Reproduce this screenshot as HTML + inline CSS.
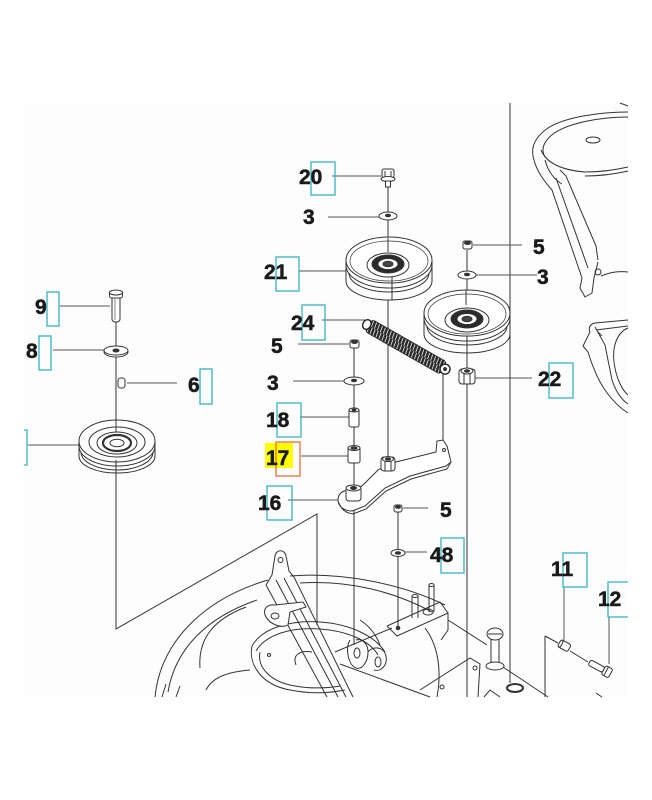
<!DOCTYPE html>
<html><head><meta charset="utf-8"><style>
html,body{margin:0;padding:0;background:#fff;}
svg{display:block}
text{font-family:"Liberation Sans",Arial,sans-serif;font-weight:bold;font-size:21px;fill:#1a1a1a;stroke:#1a1a1a;stroke-width:0.5}
</style></head><body>
<svg width="652" height="800" viewBox="0 0 652 800" xmlns="http://www.w3.org/2000/svg">
<defs>
<pattern id="coil" width="3.4" height="14" patternUnits="userSpaceOnUse">
<rect width="3.4" height="14" fill="#2a2a2a"/>
<line x1="0.5" y1="0" x2="2.8" y2="14" stroke="#f4f4f4" stroke-width="0.8"/>
</pattern>
</defs>
<rect x="0" y="0" width="652" height="800" fill="#fff"/>
<rect x="25" y="103" width="603" height="594" fill="#fdfdfd"/>

<!-- axis / frame lines -->
<g fill="none" stroke="#333" stroke-width="1">
<path d="M510,103 V683"/>
<path d="M388,186 V458"/>
<path d="M467,250 V697"/>
<path d="M354,348 V645"/>
<path d="M116,322 V629 L317,514 V625"/>
<path d="M398,512 V627"/>
<path d="M443,372 V440"/>
</g>

<!-- leader lines -->
<g fill="none" stroke="#555" stroke-width="1">
<path d="M332,176 H381"/>
<path d="M328,217 H379"/>
<path d="M299,271 H346"/>
<path d="M473,245 H522"/>
<path d="M475,275 H537"/>
<path d="M322,320 H366"/>
<path d="M298,344 H349"/>
<path d="M293,381 H345"/>
<path d="M300,417 H349"/>
<path d="M301,456 H348"/>
<path d="M288,500 H338"/>
<path d="M403,508 H428"/>
<path d="M404,552 H427"/>
<path d="M475,378 H532"/>
<path d="M60,306 H110"/>
<path d="M53,350 H104"/>
<path d="M127,383 H177"/>
<path d="M28,445 H79"/>
<path d="M564,587 V641"/>
<path d="M609,617 V664"/>
</g>

<!-- top right cover -->
<g fill="none" stroke="#333" stroke-width="1">
<path d="M628,112 C600,112 565,117 548,128 C535,137 530,148 534,160 C537,172 545,182 552,190 L582,278"/>
<path d="M628,117 C600,117 568,123 553,134 C543,142 541,150 545,157"/>
<path d="M541,150 C546,162 560,170 585,172 C600,172 615,170 628,167"/>
<path d="M585,176 C600,176 615,174 628,171"/>
<path d="M560,170 L566,176 L596,246 L598,260"/>
<path d="M556,178 L588,268"/>
<path d="M545,160 C548,172 555,180 562,184"/>
<ellipse cx="593" cy="140" rx="7" ry="3"/>
<path d="M582,278 L580,288 L585,297 L592,293 L594,278 L598,262"/>
<circle cx="598" cy="272" r="3"/>
<path d="M601,276 C610,272 620,271 628,272"/>
<path d="M620,103 L628,106"/>
</g>

<!-- right middle cover -->
<g fill="none" stroke="#333" stroke-width="1">
<path d="M628,320 L595,323 C590,324 588,328 590,332 L583,346 L588,352 C592,365 598,380 605,390 C612,400 620,408 628,413"/>
<path d="M595,327 L605,345 L612,380 C616,392 622,400 628,404"/>
<path d="M628,328 C618,332 612,345 614,362 C616,378 622,390 628,395"/>
<path d="M596,330 L628,326"/>
<path d="M598,332 L602,336"/>
</g>

<!-- Pulley 21 -->
<g stroke="#333" stroke-width="1">
<path d="M346,260 V281 A43,19 0 0 0 432,281 V260 Z" fill="#fff"/>
<ellipse cx="389" cy="260" rx="43" ry="23" fill="#fff"/>
<g fill="none">
<path d="M346,265 A43,23 0 0 0 432,265"/>
<path d="M349,273 A40,19 0 0 0 429,273"/>
<ellipse cx="389" cy="261" rx="39" ry="20" stroke-width="0.7"/>
<path d="M388,238 V252"/>
<path d="M392,277 V300"/>
</g>
<ellipse cx="388" cy="265" rx="21" ry="12" fill="#fff"/>
<ellipse cx="388" cy="264" rx="16" ry="9" fill="#2b2b2b"/>
<ellipse cx="388" cy="264" rx="10" ry="5.5" fill="#fff"/>
<ellipse cx="388" cy="264" rx="5" ry="2.8" fill="#444"/>
</g>

<!-- Pulley 2 (right) -->
<g stroke="#333" stroke-width="1">
<path d="M424,313 V334 A43,19 0 0 0 510,334 V313 Z" fill="#fff"/>
<ellipse cx="467" cy="313" rx="43" ry="23" fill="#fff"/>
<g fill="none">
<path d="M424,318 A43,23 0 0 0 510,318"/>
<path d="M427,326 A40,19 0 0 0 507,326"/>
<ellipse cx="467" cy="314" rx="39" ry="20" stroke-width="0.7"/>
<path d="M466,290 V305"/>
<path d="M467,336 V353"/>
</g>
<ellipse cx="467" cy="320" rx="22" ry="12" fill="#fff"/>
<ellipse cx="467" cy="319" rx="16" ry="9" fill="#2b2b2b"/>
<ellipse cx="467" cy="319" rx="10" ry="5.5" fill="#fff"/>
<ellipse cx="467" cy="319" rx="5" ry="2.8" fill="#444"/>
</g>

<!-- Left pulley -->
<g stroke="#333" stroke-width="1">
<path d="M79,441 V456 A38,17 0 0 0 155,456 V441 Z" fill="#fff"/>
<ellipse cx="117" cy="441" rx="38" ry="21" fill="#fff"/>
<g fill="none">
<path d="M79,446 A38,20 0 0 0 155,446"/>
<path d="M81,452 A36,18 0 0 0 153,452"/>
<ellipse cx="117" cy="442" rx="28" ry="15"/>
<ellipse cx="117" cy="443" rx="20" ry="11"/>
<path d="M116,420 V432"/>
<path d="M116,460 V473"/>
</g>
<ellipse cx="117" cy="443" rx="14" ry="8" fill="#fff" stroke-width="2.2"/>
<ellipse cx="117" cy="443" rx="7" ry="3.8" fill="#fff"/>
</g>

<!-- Bolt 20, washers, nuts -->
<g stroke="#333" stroke-width="1" fill="#fff">
<rect x="382" y="169" width="12" height="9" rx="2"/>
<path d="M385,171 V177 M391,171 V177" fill="none"/>
<ellipse cx="388" cy="179" rx="7" ry="2.5"/>
<rect x="385.5" y="181" width="5" height="6"/>
<ellipse cx="388" cy="216" rx="9" ry="4"/>
<ellipse cx="388" cy="215.5" rx="2.5" ry="1.2" fill="#333"/>
<rect x="463" y="241" width="9" height="8" rx="2"/>
<ellipse cx="467.5" cy="243" rx="3" ry="1.5" fill="#333"/>
<ellipse cx="467" cy="275" rx="9" ry="4"/>
<ellipse cx="467" cy="274.5" rx="2.5" ry="1.2" fill="#333"/>
<rect x="350" y="340" width="9" height="8" rx="2"/>
<ellipse cx="354.5" cy="342" rx="3" ry="1.5" fill="#333"/>
<ellipse cx="354" cy="381" rx="10" ry="4"/>
<ellipse cx="354" cy="380.5" rx="2.5" ry="1.2" fill="#333"/>
<rect x="349" y="409" width="10" height="18" rx="2"/>
<ellipse cx="354" cy="410" rx="5" ry="2"/>
<ellipse cx="354" cy="410" rx="2" ry="1" fill="#333"/>
<rect x="348" y="447" width="12" height="16" rx="2"/>
<ellipse cx="354" cy="448" rx="6" ry="2.5"/>
<ellipse cx="354" cy="448" rx="3" ry="1.3" fill="#333"/>
<rect x="459" y="369" width="16" height="15" rx="3"/>
<path d="M464,373 V384 M470,373 V384" fill="none"/>
<ellipse cx="467" cy="371" rx="6" ry="3"/>
<ellipse cx="467" cy="371" rx="2.5" ry="1.3" fill="#333"/>
<rect x="394" y="505" width="8" height="7" rx="2"/>
<ellipse cx="398" cy="507" rx="2.5" ry="1.3" fill="#333"/>
<ellipse cx="398" cy="553" rx="7" ry="3.5"/>
<ellipse cx="398" cy="553" rx="2.5" ry="1.3" fill="#333"/>
<rect x="112" y="296" width="8" height="26" rx="3"/>
<path d="M115,299 V320" fill="none" stroke-width="0.6"/>
<rect x="109.5" y="292" width="13" height="6" rx="2"/>
<ellipse cx="116" cy="292.5" rx="6.5" ry="2.5"/>
<ellipse cx="116" cy="352" rx="12" ry="5"/>
<ellipse cx="116" cy="350.5" rx="12" ry="4.5"/>
<ellipse cx="116" cy="350.5" rx="3" ry="1.5" fill="#333"/>
<rect x="118" y="378" width="7" height="10" rx="2.5"/>
</g>

<!-- Spring 24 -->
<g transform="translate(366,324) rotate(29.7)">
<rect x="3" y="-7" width="86" height="14" rx="3" fill="url(#coil)" stroke="#222" stroke-width="0.8"/>
<ellipse cx="1" cy="0" rx="4" ry="5" fill="#fff" stroke="#222" stroke-width="1.4"/>
<ellipse cx="91" cy="0" rx="5" ry="5" fill="#fff" stroke="#222" stroke-width="1.4"/>
<ellipse cx="91" cy="0" rx="2" ry="2" fill="#333"/>
</g>

<!-- Bracket 16 -->
<g stroke="#333" stroke-width="1">
<path d="M338,500 C338,494 342,491 348,490 L362,486 L378,470 L392,463 L436,452 L437,441 L443,440 L447,446 L451,462 L446,466 L410,476 L385,488 L365,506 L352,511 C344,511 338,506 338,500 Z" fill="#fff"/>
<path d="M339,503 C341,509 346,513 353,514 L366,509 L386,491 L411,479 L447,469 L451,462" fill="none"/>
<circle cx="444" cy="450" r="1.5" fill="none"/>
<rect x="346" y="487" width="15" height="14" rx="3" fill="#fff"/>
<ellipse cx="353.5" cy="488" rx="7.5" ry="3" fill="#fff"/>
<ellipse cx="353.5" cy="488" rx="3" ry="1.5" fill="#333"/>
<rect x="381" y="457" width="14" height="14" rx="3" fill="#fff"/>
<path d="M385,460 V471 M391,460 V471" fill="none"/>
<ellipse cx="388" cy="459" rx="5.5" ry="2.5" fill="#fff"/>
<ellipse cx="388" cy="459" rx="2.5" ry="1.2" fill="#333"/>
</g>

<!-- Deck drawing -->
<g fill="none" stroke="#333" stroke-width="1">
<path d="M155,697 C160,645 200,600 268,580"/>
<path d="M168,692 C175,650 205,618 257,600"/>
<path d="M200,668 C198,640 212,620 246,607"/>
<path d="M206,690 C212,678 226,672 250,670"/>
<path d="M162,697 L166,684 M176,697 L180,686"/>
<path d="M290,576 C340,572 400,583 445,605"/>
<path d="M300,583 C350,580 395,592 432,612"/>
<path d="M252,646 C262,628 290,620 320,622 C350,624 375,636 385,652"/>
<path d="M256,651 C266,634 292,627 320,629 C348,631 370,641 378,655"/>
<path d="M252,646 C248,665 262,685 290,690 C310,694 330,693 345,690"/>
<path d="M260,652 C257,667 270,682 295,686 C312,689 328,688 340,686"/>
<path d="M296,665 C292,655 300,650 312,652"/>
<circle cx="269" cy="655" r="1.5"/>
<path d="M266,585 L272,575 L275,556 C276,549 285,549 286,556 L289,571 L294,577 L353,697"/>
<path d="M266,585 L327,697"/>
<path d="M276,580 L338,697"/>
<path d="M284,578 L346,697"/>
<circle cx="280.5" cy="560" r="2.5"/>
<path d="M265,615 C263,608 268,604 275,605 L303,602 L306,607 L290,612 L288,625 C283,628 270,626 265,615 Z" fill="#fdfdfd"/>
<ellipse cx="275" cy="616" rx="4" ry="3"/>
<path d="M335,652 L392,628"/>
<path d="M340,664 L430,697"/>
<path d="M350,640 C345,648 348,665 356,668 C362,670 368,662 368,652 C368,644 362,638 356,640"/>
<ellipse cx="357" cy="653" rx="3" ry="5"/>
<path d="M368,652 C372,646 384,646 386,656 C388,666 380,672 374,670"/>
<ellipse cx="378" cy="662" rx="3" ry="5"/>
<path d="M360,620 C368,625 375,632 380,645"/>
<path d="M387,626 L397,636 L448,613 L448,630 L441,640 M448,613 L440,602 L387,626" />
<circle cx="398" cy="628" r="1.8" fill="#333"/>
<path d="M412,596 V618 M418,596 V618"/>
<ellipse cx="415" cy="596" rx="3" ry="1.5"/>
<path d="M429,585 V612 M434,585 V612"/>
<ellipse cx="431.5" cy="585" rx="2.5" ry="1.5"/>
<ellipse cx="428" cy="612" rx="5" ry="3"/>
<path d="M425,628 C438,645 442,670 437,697"/>
<path d="M448,620 L487,645"/>
<path d="M503,667 L548,697"/>
<path d="M420,690 L470,658 L480,664 L478,697"/>
<circle cx="475" cy="668" r="2"/>
<circle cx="442" cy="687" r="2"/>
<ellipse cx="515" cy="688" rx="8" ry="4" stroke-width="2"/>
<path d="M545,636 V697 M545,636 L558,643"/>
<path d="M570,651 L588,662"/>
<path d="M596,693 L602,697"/>
<path d="M484,697 L490,690 L500,697"/>
</g>

<!-- knob, part 11, bolt 12 -->
<g stroke="#333" stroke-width="1" fill="#fff">
<rect x="491" y="638" width="8" height="26"/>
<ellipse cx="495" cy="666" rx="9" ry="4"/>
<ellipse cx="495" cy="634" rx="8" ry="6"/>
<path d="M488,634 H502" fill="none"/>
<g transform="translate(565,646) rotate(28)">
<rect x="-5" y="-4" width="10" height="8" rx="2"/>
<ellipse cx="-5" cy="0" rx="1.5" ry="4"/>
</g>
<g transform="translate(600,668) rotate(28)">
<rect x="-12" y="-3" width="16" height="6" rx="2"/>
<rect x="4" y="-5" width="8" height="10" rx="2"/>
<path d="M7,-5 V5" fill="none"/>
</g>
</g>

<!-- label boxes -->
<g fill="none" stroke="#37b3c3" stroke-width="1.3">
<rect x="311" y="162" width="24" height="33"/>
<rect x="276" y="257" width="23" height="34"/>
<rect x="302" y="305" width="23" height="35"/>
<rect x="277" y="403" width="24" height="34"/>
<rect x="267" y="486" width="25" height="34"/>
<rect x="441" y="538" width="23" height="35"/>
<rect x="549" y="363" width="24" height="35"/>
<rect x="563" y="553" width="24" height="34"/>
<path d="M628,582 H608 V617 H628"/>
<rect x="47" y="292" width="12" height="34"/>
<rect x="39" y="336" width="12" height="34"/>
<rect x="200" y="369" width="12" height="35"/>
<path d="M24,430 H27 V465 H24"/>
</g>
<rect x="265" y="443" width="28" height="25" fill="#ffff00"/>
<rect x="276" y="442" width="24" height="34" fill="none" stroke="#e8703a" stroke-width="1.3"/>

<!-- labels -->
<text x="299" y="184">20</text>
<text x="303" y="224">3</text>
<text x="264" y="279">21</text>
<text x="533" y="254">5</text>
<text x="537" y="284">3</text>
<text x="291" y="330">24</text>
<text x="271" y="353">5</text>
<text x="267" y="390">3</text>
<text x="266" y="427">18</text>
<text x="266" y="465">17</text>
<text x="258" y="510">16</text>
<text x="440" y="517">5</text>
<text x="430" y="562">48</text>
<text x="538" y="386">22</text>
<text x="551" y="576">11</text>
<text x="598" y="606">12</text>
<text x="35" y="314">9</text>
<text x="26" y="358">8</text>
<text x="188" y="392">6</text>
</svg>
</body></html>
